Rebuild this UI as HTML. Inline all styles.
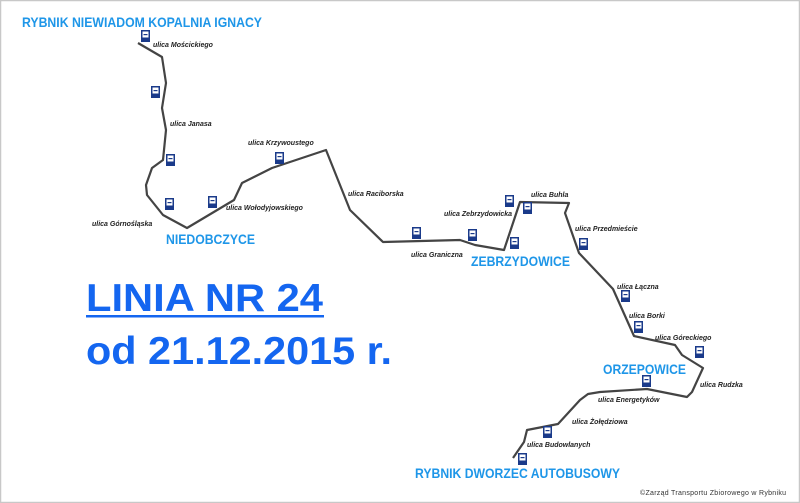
<!DOCTYPE html>
<html><head><meta charset="utf-8"><style>
html,body{margin:0;padding:0;background:#fff}
svg{display:block}
.s{font-family:"Liberation Sans",sans-serif;font-style:italic;font-weight:bold;font-size:7px;fill:#222}
.t{font-family:"Liberation Sans",sans-serif;font-weight:bold;font-size:14px;fill:#1e96e8}
.b{font-family:"Liberation Sans",sans-serif;font-weight:bold;font-size:39px;fill:#1466f0}
</style></head><body>
<svg width="800" height="503" viewBox="0 0 800 503" xmlns="http://www.w3.org/2000/svg">
<defs>
<g id="bus"><rect x="0" y="0" width="9" height="12" fill="#1a3a8a"/><rect x="1.5" y="1.5" width="6" height="6" fill="#fff"/><rect x="2.5" y="4" width="4" height="1.2" fill="#1a3a8a"/></g>
</defs>
<rect x="0.5" y="0.5" width="799" height="502" fill="#fff" stroke="#c8c8c8" stroke-width="1.5"/>
<polyline fill="none" stroke="#444" stroke-width="2.2" stroke-linejoin="round" points="138,43 162,57 166,83 162,108 166,130 163,160 152,168 146,185 147,195 163,215 187,228 234,200 242,183 272,168 326,150 350,210 383,242 460,240 475,245 504,250 520,202 569,203 565,213 579,253 613,289 634,336 675,345 682,355 703,368 692,392 687,397 647,389 600,392 588,394 580,400 558,424 527,430 524,442 513,458"/>
<g>
<use href="#bus" x="141" y="30"/><use href="#bus" x="151" y="86"/><use href="#bus" x="166" y="154"/><use href="#bus" x="165" y="198"/><use href="#bus" x="208" y="196"/><use href="#bus" x="275" y="152"/><use href="#bus" x="412" y="227"/><use href="#bus" x="468" y="229"/><use href="#bus" x="505" y="195"/><use href="#bus" x="523" y="202"/><use href="#bus" x="510" y="237"/><use href="#bus" x="579" y="238"/><use href="#bus" x="621" y="290"/><use href="#bus" x="634" y="321"/><use href="#bus" x="695" y="346"/><use href="#bus" x="642" y="375"/><use href="#bus" x="543" y="426"/><use href="#bus" x="518" y="453"/>
</g>
<g class="s">
<text x="153" y="47">ulica Mościckiego</text>
<text x="170" y="126">ulica Janasa</text>
<text x="248" y="145">ulica Krzywoustego</text>
<text x="348" y="196">ulica Raciborska</text>
<text x="226" y="210">ulica Wołodyjowskiego</text>
<text x="92" y="226">ulica Górnośląska</text>
<text x="531" y="197">ulica Buhla</text>
<text x="444" y="216">ulica Zebrzydowicka</text>
<text x="411" y="257">ulica Graniczna</text>
<text x="575" y="231">ulica Przedmieście</text>
<text x="617" y="289">ulica Łączna</text>
<text x="629" y="318">ulica Borki</text>
<text x="655" y="340">ulica Góreckiego</text>
<text x="700" y="387">ulica Rudzka</text>
<text x="598" y="402">ulica Energetyków</text>
<text x="572" y="424">ulica Żołędziowa</text>
<text x="527" y="447">ulica Budowlanych</text>
</g>
<g class="t">
<text x="22" y="27" textLength="240" lengthAdjust="spacingAndGlyphs">RYBNIK NIEWIADOM KOPALNIA IGNACY</text>
<text x="166" y="244" textLength="89" lengthAdjust="spacingAndGlyphs">NIEDOBCZYCE</text>
<text x="471" y="266" textLength="99" lengthAdjust="spacingAndGlyphs">ZEBRZYDOWICE</text>
<text x="603" y="374" textLength="83" lengthAdjust="spacingAndGlyphs">ORZEPOWICE</text>
<text x="415" y="478" textLength="205" lengthAdjust="spacingAndGlyphs">RYBNIK DWORZEC AUTOBUSOWY</text>
</g>
<text class="b" x="86" y="311" textLength="237" lengthAdjust="spacingAndGlyphs">LINIA NR 24</text>
<rect x="86" y="315" width="238" height="2.5" fill="#1466f0"/>
<text class="b" x="86" y="364" textLength="306" lengthAdjust="spacingAndGlyphs">od 21.12.2015 r.</text>
<text x="640" y="495" font-family="Liberation Sans,sans-serif" font-size="7" fill="#333" textLength="146">©Zarząd Transportu Zbiorowego w Rybniku</text>
</svg>
</body></html>
